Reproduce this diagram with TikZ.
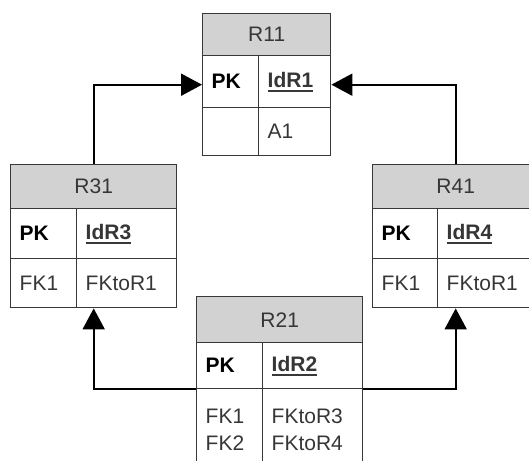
\documentclass[tikz,border=0pt]{standalone}
\usepackage{fontspec}
\setmainfont{Liberation Sans}
\usetikzlibrary{arrows.meta}
\definecolor{edge}{HTML}{383838}
\definecolor{hdr}{HTML}{D2D2D2}
\definecolor{ink}{HTML}{363636}
% underlined key attribute
\newcommand\keyattr[1]{\setbox0\hbox{\bfseries #1}\rlap{\color{edge}\rule[-4.5pt]{\wd0}{1.7pt}}\box0}
\tikzset{
  head/.style={draw=edge, line width=1.4pt, fill=hdr, text=ink, inner sep=0pt, anchor=north west},
  cell/.style={draw=edge, line width=1.4pt, inner xsep=9pt, inner ysep=0pt, anchor=north west, align=left, text=ink},
  link/.style={draw=black, line width=2pt, -{Triangle[length=21pt,width=22pt]}},
}
\begin{document}
\begin{tikzpicture}[x=1pt,y=-1pt, font=\fontsize{21}{27}\selectfont]
\useasboundingbox (0,0) rectangle (529,460);
\clip (0,0) rectangle (529,460);

% table R11
\node[head, minimum width=128, minimum height=42] (R11-h) at (202,13) {R11};
\node[cell, text width=38, minimum height=52] (R11-pk) at (202,55) {\textbf{\color{black}PK}};
\node[cell, text width=54, minimum height=52] (R11-id) at (258,55) {\keyattr{IdR1}};
\node[cell, text width=38, minimum height=48] (R11-fk) at (202,107) {};
\node[cell, text width=54, minimum height=48] (R11-fn) at (258,107) {A1};

% table R31
\node[head, minimum width=166, minimum height=44] (R31-h) at (10,164) {R31};
\node[cell, text width=48, minimum height=50] (R31-pk) at (10,208) {\textbf{\color{black}PK}};
\node[cell, text width=82, minimum height=50] (R31-id) at (76,208) {\keyattr{IdR3}};
\node[cell, text width=48, minimum height=49] (R31-fk) at (10,258) {FK1};
\node[cell, text width=82, minimum height=49] (R31-fn) at (76,258) {FKtoR1};

% table R41
\node[head, minimum width=166, minimum height=44] (R41-h) at (372,164) {R41};
\node[cell, text width=47, minimum height=50] (R41-pk) at (372,208) {\textbf{\color{black}PK}};
\node[cell, text width=83, minimum height=50] (R41-id) at (437,208) {\keyattr{IdR4}};
\node[cell, text width=47, minimum height=49] (R41-fk) at (372,258) {FK1};
\node[cell, text width=83, minimum height=49] (R41-fn) at (437,258) {FKtoR1};

% table R21
\node[head, minimum width=166, minimum height=46] (R21-h) at (196,296) {R21};
\node[cell, text width=48, minimum height=46] (R21-pk) at (196,342) {\textbf{\color{black}PK}};
\node[cell, text width=82, minimum height=46] (R21-id) at (262,342) {\keyattr{IdR2}};
\node[cell, text width=48, minimum height=82] (R21-fk) at (196,388) {FK1\\FK2};
\node[cell, text width=82, minimum height=82] (R21-fn) at (262,388) {FKtoR3\\FKtoR4};

% foreign key references
\draw[link] (R31-h.north) |- ([yshift=-3pt]R11-pk.west);
\draw[link] (R41-h.north) |- ([yshift=-3pt]R11-id.east);
\draw[link] (R21-pk.south west) -| (R31-h.center |- R31-fk.south);
\draw[link] (R21-id.south east) -| (R41-h.center |- R41-fn.south);
\end{tikzpicture}
\end{document}
